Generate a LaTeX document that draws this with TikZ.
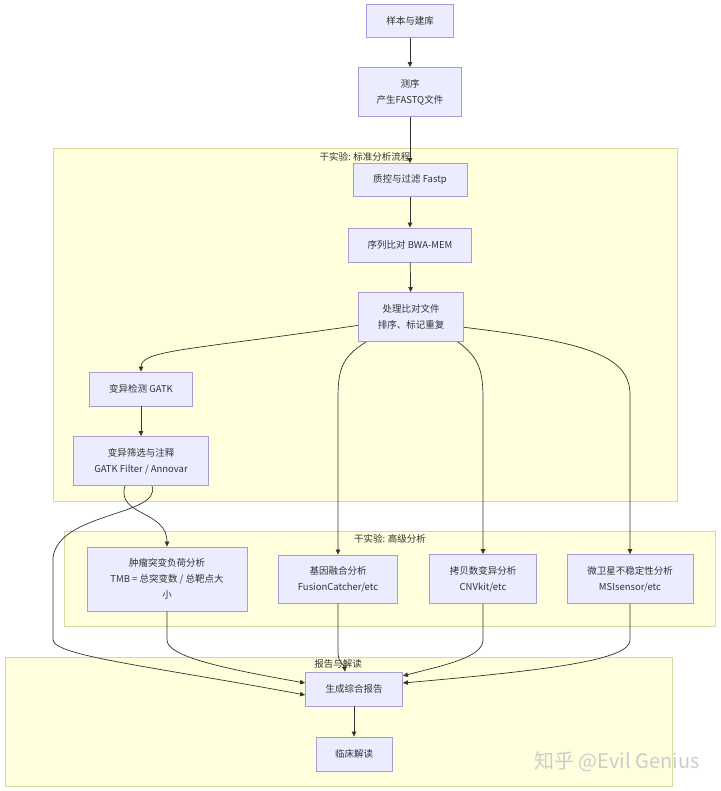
\documentclass[tikz,border=0pt]{standalone}
\usepackage{fontspec}
\setmainfont{Noto Sans CJK SC}
\usetikzlibrary{arrows.meta}
\definecolor{nodefill}{HTML}{ECECFF}
\definecolor{nodeline}{HTML}{A99BD8}
\definecolor{grpfill}{HTML}{FFFFDE}
\definecolor{grpline}{HTML}{D6D9A0}
\definecolor{linkgray}{HTML}{333333}
\begin{document}
\begin{tikzpicture}[x=1pt,y=-1pt,
 box/.style={draw=nodeline,fill=nodefill,line width=0.8pt,align=center,inner sep=0pt,text=linkgray,font=\fontsize{9.5}{16}\selectfont},
 grp/.style={draw=grpline,fill=grpfill,line width=0.8pt},
 grplabel/.style={text=linkgray,inner sep=0pt,font=\fontsize{9.5}{12}\selectfont},
 arr/.style={draw=linkgray,line width=0.7pt,-{Triangle[length=5pt,width=4.5pt]}}]
 \useasboundingbox (0,0) rectangle (720,791);
 % groups
 \draw[grp] (53,148) rectangle (677,501);
 \draw[grp] (64,531) rectangle (715,626);
 \draw[grp] (5,657) rectangle (672,786);
 \node[grplabel] (g1) at (365,157) {干实验: 标准分析流程};
 \node[grplabel] (g2) at (390,539) {干实验: 高级分析};
 \node[grplabel] (g3) at (338,664) {报告与解读};
 % nodes
 \node[box,minimum width=87,minimum height=33] (lib) at (410,21) {样本与建库};
 \node[box,minimum width=103,minimum height=49] (seq) at (410,92) {测序\\产生FASTQ文件};
 \node[box,minimum width=114,minimum height=33] (qc) at (410,180) {质控与过滤 Fastp};
 \node[box,minimum width=123,minimum height=34] (aln) at (410,245) {序列比对 BWA-MEM};
 \node[box,minimum width=105,minimum height=49] (proc) at (411,317) {处理比对文件\\排序、标记重复};
 \node[box,minimum width=103,minimum height=34] (call) at (141,389) {变异检测 GATK};
 \node[box,minimum width=135,minimum height=49] (filt) at (141,461) {变异筛选与注释\\GATK Filter / Annovar};
 \node[box,minimum width=160,minimum height=64] (tmb) at (167,579) {肿瘤突变负荷分析\\TMB = 总突变数 / 总靶点大\\小};
 \node[box,minimum width=119,minimum height=48] (fus) at (338,579) {基因融合分析\\FusionCatcher/etc};
 \node[box,minimum width=107,minimum height=49] (cnv) at (483,579) {拷贝数变异分析\\CNVkit/etc};
 \node[box,minimum width=126,minimum height=49] (msi) at (630,579) {微卫星不稳定性分析\\MSIsensor/etc};
 \node[box,minimum width=97,minimum height=34] (rep) at (354,689) {生成综合报告};
 \node[box,minimum width=76,minimum height=34] (clin) at (354,754) {临床解读};
 \node[text=gray!40,font=\fontsize{20}{20}\selectfont,inner sep=0pt] (wm) at (617,762) {知乎 @Evil Genius};
 % links
 \draw[arr] (lib) -- (seq);
 \draw[arr] (seq) -- (qc);
 \draw[arr] (qc) -- (aln);
 \draw[arr] (aln) -- (proc);
 \draw[arr] (proc.189) .. controls (190,350) and (141,350) .. (call.north);
 \draw[arr] (proc.209) .. controls (340,358) and (338,372) .. (338,400) -- (fus.north);
 \draw[arr] (proc.332) .. controls (480,358) and (483,372) .. (483,400) -- (cnv.north);
 \draw[arr] (proc.349) .. controls (585,342) and (630,355) .. (630,395) -- (msi.north);
 \draw[arr] (call) -- (filt);
 \draw[arr] ([xshift=-16pt]filt.south) .. controls (116,516) and (167,510) .. (tmb.north);
 \draw[arr] ([xshift=11pt]filt.south) .. controls (162,516) and (58,512) .. (53,558) -- (53,640) .. controls (55,656) and (150,666) .. (rep.187);
 \draw[arr] (tmb.south) -- (167,640) .. controls (167,656) and (220,668) .. (rep.173);
 \draw[arr] (fus.south) -- (338,652) .. controls (338,663) and (344,664) .. ([xshift=-9pt]rep.north);
 \draw[arr] (cnv.south) -- (483,640) .. controls (483,658) and (440,666) .. (rep.15);
 \draw[arr] (msi.south) -- (630,640) .. controls (630,660) and (550,670) .. (rep.7);
 \draw[arr] (rep) -- (clin);
\end{tikzpicture}
\end{document}
